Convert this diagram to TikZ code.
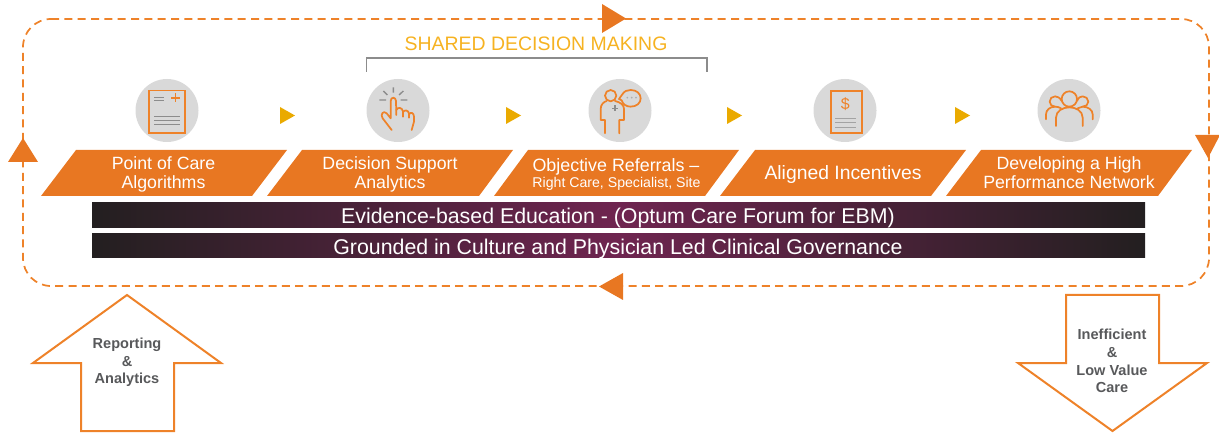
\documentclass[tikz,border=0pt]{standalone}
\usepackage{fontspec}
\setmainfont{Liberation Sans}
\usetikzlibrary{shadings}
\definecolor{orng}{HTML}{E87722}
\definecolor{orngline}{HTML}{EE8229}
\definecolor{gold}{HTML}{EAAA00}
\definecolor{sharedtxt}{HTML}{F6B221}
\definecolor{circ}{HTML}{D9D9D9}
\definecolor{icongrey}{HTML}{8C8C8C}
\definecolor{darkbar}{HTML}{231F20}
\definecolor{plum}{HTML}{6F2550}
\definecolor{labelgrey}{HTML}{58595B}
\tikzset{
  x=0.75pt,y=-0.75pt,
  para/.style={fill=orng,draw=none},
  paratext/.style={text=white,align=center,inner sep=0pt,font=\fontsize{13.3}{14.25}\selectfont},
  barbox/.style={draw=none,left color=darkbar,right color=darkbar,middle color=plum},
  bartext/.style={text=white,inner sep=0pt,font=\fontsize{16}{18}\selectfont},
  iconcircle/.style={fill=circ,draw=none},
  iconline/.style={draw=orngline,line width=1.3pt,line cap=round,line join=round},
  greyline/.style={draw=icongrey,line width=1.3pt},
  loopline/.style={draw=orngline,line width=1.3pt,dash pattern=on 6pt off 4pt},
  looptip/.style={fill=orng,draw=none},
  stepmark/.style={fill=gold,draw=none},
  bigarrow/.style={draw=orngline,line width=1.5pt,fill=white,line join=miter},
  arrowtext/.style={text=labelgrey,align=center,inner sep=0pt,font=\fontsize{10.9}{13.3}\selectfont\bfseries},
}
\begin{document}
\begin{tikzpicture}
\useasboundingbox (0,0) rectangle (1219,434);
% loop
\draw[loopline] (51,19) -- (1181,19) arc[start angle=90,end angle=0,x radius=28,y radius=-28]
  -- (1209,258) arc[start angle=0,end angle=-90,x radius=28,y radius=-28]
  -- (51,286) arc[start angle=270,end angle=180,x radius=28,y radius=-28]
  -- (23,47) arc[start angle=180,end angle=90,x radius=28,y radius=-28] -- cycle;
\fill[looptip] (602,4) -- (626,18.5) -- (602,33) -- cycle;
\fill[looptip] (8,162) -- (23,138) -- (38,162) -- cycle;
\fill[looptip] (1195,135) -- (1220,135) -- (1208,158) -- cycle;
\fill[looptip] (623,273) -- (599,286.5) -- (623,300) -- cycle;
% shared decision making
\node[text=sharedtxt,inner sep=0pt,font=\fontsize{14.6}{16}\selectfont] (shared) at (536,44) {SHARED DECISION MAKING};
\draw[draw=icongrey,line width=0.9pt] (366.5,72) -- (366.5,58) -- (707,58) -- (707,72);
% circles
\fill[iconcircle] (167,110.5) circle[radius=31.5];
\fill[iconcircle] (398,110.5) circle[radius=31.5];
\fill[iconcircle] (620,110.5) circle[radius=31.5];
\fill[iconcircle] (845,110.5) circle[radius=31.5];
\fill[iconcircle] (1069,110.5) circle[radius=31.5];
% step markers
\fill[stepmark] (280,107) -- (295,115.5) -- (280,124) -- cycle;
\fill[stepmark] (506,107) -- (521,115.5) -- (506,124) -- cycle;
\fill[stepmark] (727,107) -- (742,115.5) -- (727,124) -- cycle;
\fill[stepmark] (955,107) -- (970,115.5) -- (955,124) -- cycle;
% icon 1
\draw[iconline,line cap=butt,line join=miter] (149,90.5) rectangle (185,133);
\draw[greyline] (154,97.5) -- (164,97.5) (154,100.5) -- (164,100.5);
\draw[greyline] (154,116.5) -- (180,116.5) (154,120.5) -- (180,120.5) (154,124.5) -- (180,124.5);
\draw[iconline,line cap=butt] (171,98) -- (180,98) (175.5,93.5) -- (175.5,102.5);
% icon 2
\begin{scope}[shift={(360,75)},scale=0.3333]
\draw[iconline] (95,165) -- (68,130) .. controls (60,118) and (70,105) .. (80,115) -- (92,130) -- (92,78)
  .. controls (92,65) and (108,65) .. (108,78) -- (109,120);
\draw[iconline] (109,105) .. controls (112,95) and (128,97) .. (129,110) -- (129,125);
\draw[iconline] (129,112) .. controls (132,103) and (146,105) .. (147,116) -- (147,128);
\draw[iconline] (147,118) .. controls (151,110) and (162,113) .. (162,125) -- (162,140) -- (155,165);
\draw[greyline,line width=1pt] (100,37) -- (100,53) (70,48) -- (82,60) (130,48) -- (117,60) (58,75) -- (78,75) (122,75) -- (142,75);
\end{scope}
% icon 3
\begin{scope}[shift={(580,75)},scale=0.3333]
\draw[iconline] (92,62) circle[radius=17];
\draw[iconline] (75,175) -- (75,135) -- (62,135) -- (62,102) .. controls (62,88) and (72,80) .. (80,78)
  (105,78) .. controls (122,82) and (132,90) .. (132,102) -- (132,135) -- (118,135) -- (118,175);
\draw[iconline] (127,58) .. controls (133,48) and (142,45) .. (152,45) .. controls (170,45) and (182,56) .. (182,70)
  .. controls (182,84) and (170,95) .. (152,95) .. controls (138,95) and (128,87) .. (125,76) -- (117,72) -- cycle;
\fill[icongrey!70] (142,68) circle[radius=3] (155,68) circle[radius=3] (168,68) circle[radius=3];
\draw[draw=icongrey,line width=1.2pt] (96,100) -- (114,100) (105,91) -- (105,109);
\end{scope}
% icon 4
\begin{scope}[shift={(805,75)},scale=0.3333]
\draw[iconline,line cap=butt,line join=miter] (77,48) rectangle (170,175);
\node[text=orngline,inner sep=0pt,font=\fontsize{12}{14}\selectfont] (dollar) at (121,88) {\$};
\draw[draw=icongrey!80,line width=1.2pt] (90,130) -- (153,130) (90,143) -- (153,143) (90,157) -- (153,157);
\end{scope}
% icon 5
\begin{scope}[shift={(1030,75)},scale=0.3333]
\draw[iconline] (118,72) circle[radius=23];
\draw[iconline] (95,78) .. controls (90,68) and (82,64) .. (75,64) .. controls (66,64) and (59,71) .. (59,80) .. controls (59,89) and (66,95) .. (75,95);
\draw[iconline] (141,78) .. controls (146,68) and (150,64) .. (158,64) .. controls (167,64) and (175,71) .. (175,80) .. controls (175,89) and (167,95) .. (158,95);
\draw[iconline] (78,153) -- (78,128) .. controls (78,108) and (98,97) .. (118,97) .. controls (138,97) and (158,108) .. (158,128) -- (158,153);
\draw[iconline] (48,133) -- (48,118) .. controls (48,105) and (60,95) .. (75,95) .. controls (82,95) and (88,97) .. (93,100);
\draw[iconline] (188,133) -- (188,118) .. controls (188,105) and (174,95) .. (158,95) .. controls (152,95) and (148,97) .. (143,100);
\end{scope}
% parallelograms
\fill[para] (41,196) -- (76,150) -- (287,150) -- (252,196) -- cycle;
\fill[para] (267,196) -- (302,150) -- (513,150) -- (479,196) -- cycle;
\fill[para] (494,196) -- (528,150) -- (739,150) -- (705,196) -- cycle;
\fill[para] (720,196) -- (755,150) -- (966,150) -- (931,196) -- cycle;
\fill[para] (946,196) -- (981,150) -- (1192,150) -- (1158,196) -- cycle;
\node[paratext] (poc) at (163.5,174.5) {Point of Care\\Algorithms};
\node[paratext] (dsa) at (390,174.5) {Decision Support\\Analytics};
\node[paratext,font=\fontsize{13.4}{15}\selectfont] (obj) at (616,166.5) {Objective Referrals –};
\node[paratext,font=\fontsize{10.6}{12}\selectfont] (rcs) at (616.5,184) {Right Care, Specialist, Site};
\node[paratext,font=\fontsize{14.5}{16}\selectfont] (ai) at (843,174.5) {Aligned Incentives};
\node[paratext] (dev) at (1069,172.5) {Developing a High\\Performance Network};
% bars
\fill[barbox] (92,203) rectangle (1145,228);
\fill[barbox] (92,234) rectangle (1145,258);
\node[bartext] (ebm) at (618,218) {Evidence-based Education - (Optum Care Forum for EBM)};
\node[bartext] (gov) at (618,248.5) {Grounded in Culture and Physician Led Clinical Governance};
% big arrows
\draw[bigarrow] (127,295) -- (221,363) -- (174,363) -- (174,431) -- (81,431) -- (81,363) -- (33,363) -- cycle;
\draw[bigarrow] (1066,295) -- (1159,295) -- (1159,363) -- (1207,363) -- (1112.5,431) -- (1018,363) -- (1066,363) -- cycle;
\node[arrowtext] (rep) at (127,362.5) {Reporting\\\&\\Analytics};
\node[arrowtext] (ineff) at (1112,361) {Inefficient\\\&\\Low Value\\Care};
\end{tikzpicture}
\end{document}
